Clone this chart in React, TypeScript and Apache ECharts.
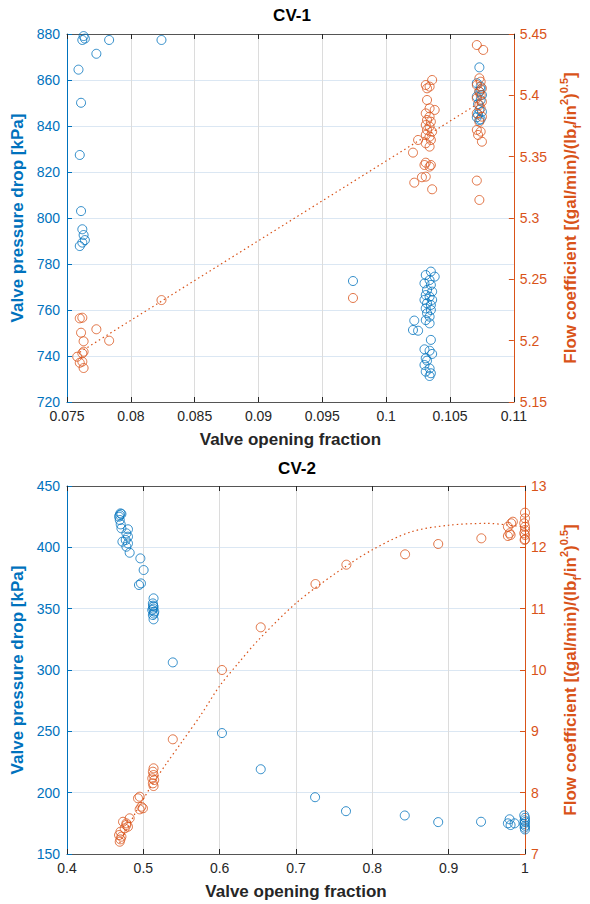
import React, { useEffect, useRef } from "react";
import * as echarts from "echarts";

// ---------- CV-1 data ----------
const cv1DropX = [
  0.0763, 0.0762, 0.0764, 0.0783, 0.0824, 0.0773, 0.0759, 0.0761, 0.076, 0.0761, 0.0762, 0.0763, 0.0764, 0.0762, 0.076,
  0.0974,
  0.1035, 0.1031, 0.1038, 0.1034, 0.103, 0.1035, 0.1032, 0.1036, 0.1031, 0.1034, 0.103, 0.1036, 0.1032, 0.1035, 0.1031,
  0.1035, 0.1032, 0.1034, 0.1031, 0.1034, 0.1022, 0.1021, 0.1025, 0.1035, 0.103, 0.1034, 0.1036, 0.1031, 0.1032, 0.103,
  0.1034, 0.1031, 0.1035, 0.1034,
  0.1073, 0.1071, 0.1074, 0.1073, 0.1075, 0.1071, 0.1074, 0.1073, 0.1075, 0.1071, 0.1074, 0.1073, 0.1072, 0.1074, 0.1072,
];
const cv1DropY = [
  879.1, 877.4, 878.0, 877.4, 877.4, 871.4, 864.5, 850.1, 827.4, 803.0, 795.1, 792.6, 790.4, 789.3, 787.8,
  772.6,
  776.7, 775.2, 774.5, 773.0, 771.6, 770.9, 768.7, 768.0, 766.5, 765.8, 764.4, 764.4, 762.9, 762.2, 760.7,
  760.0, 758.6, 757.1, 755.6, 754.2, 755.4, 751.3, 751.0, 747.0, 742.9, 742.3, 740.9, 739.0, 738.0, 736.1,
  734.6, 733.2, 732.5, 731.3,
  865.5, 858.6, 857.1, 854.9, 853.5, 852.8, 851.3, 847.0, 846.2, 843.8, 842.9, 842.6, 849.5, 856.0, 845.0,
];
const cv1CvX = [
  0.076, 0.0762, 0.0761, 0.0773, 0.0763, 0.0783, 0.0763, 0.0758, 0.0762, 0.076, 0.0762, 0.0763, 0.0824,
  0.0974,
  0.1036, 0.1031, 0.1034, 0.1032, 0.1032, 0.1034, 0.1038, 0.1031, 0.1034, 0.1032, 0.1035, 0.1031, 0.1034, 0.1032, 0.1036,
  0.1031, 0.1034, 0.1025, 0.1035, 0.1031, 0.1034, 0.1021, 0.1031, 0.1035, 0.103, 0.1034, 0.1031, 0.1028, 0.1022, 0.1036,
  0.1071, 0.1076, 0.1073, 0.1074, 0.1071, 0.1075, 0.1073, 0.1074, 0.1071, 0.1075, 0.1073, 0.1074, 0.1071, 0.1075, 0.1073,
  0.1071, 0.1074, 0.1072, 0.1075, 0.1071, 0.1073,
];
const cv1CvY = [
  5.2182, 5.2187, 5.2065, 5.2093, 5.1995, 5.2, 5.191, 5.1869, 5.1897, 5.182, 5.1829, 5.1777, 5.2331,
  5.2348,
  5.4125, 5.4084, 5.4071, 5.4057, 5.3962, 5.3894, 5.3881, 5.3853, 5.3826, 5.3799, 5.3785, 5.3758, 5.3745, 5.3718, 5.3704,
  5.3677, 5.3663, 5.3636, 5.3636, 5.3609, 5.3582, 5.3533, 5.3451, 5.3432, 5.3432, 5.3419, 5.3337, 5.3332, 5.3288, 5.3234,
  5.441, 5.437, 5.4139, 5.4111, 5.4084, 5.4057, 5.403, 5.4003, 5.3976, 5.3948, 5.3921, 5.3894, 5.3853, 5.3826, 5.3785,
  5.3718, 5.3704, 5.3677, 5.3622, 5.3305, 5.3147,
];
const cv1FitX = [0.076, 0.1073];
const cv1FitY = [5.1906, 5.3939];

// ---------- CV-2 data ----------
const cv2DropX = [
  0.47, 0.4691, 0.4713, 0.4682, 0.4691, 0.4704, 0.4713, 0.4799, 0.4778, 0.4799, 0.4769, 0.4726, 0.4799, 0.4778, 0.4821,
  0.4961, 0.5004, 0.4943, 0.4969, 0.5134, 0.5125, 0.5134, 0.5117, 0.5143, 0.5125, 0.5134, 0.513, 0.5138, 0.5128,
  0.5386, 0.603, 0.6538, 0.725, 0.7655, 0.8425, 0.8863, 0.9424, 0.9798, 0.9811, 0.9863, 0.9776,
  0.999, 1.0, 0.9995, 1.0, 0.999, 1.0, 0.9995, 1.0,
];
const cv2DropY = [
  427.7, 426.3, 427.2, 425.0, 422.3, 418.7, 415.5, 414.7, 411.4, 408.7, 406.0, 404.6, 403.2, 400.5, 395.6,
  391.0, 381.5, 369.3, 370.6, 358.4, 354.3, 351.6, 348.9, 347.6, 344.8, 341.3, 350.0, 346.0, 352.5,
  306.2, 248.6, 219.1, 196.3, 184.9, 181.4, 176.0, 176.3, 178.3, 173.6, 175.0, 175.0,
  181.5, 179.5, 177.5, 176.0, 174.5, 173.0, 171.5, 170.0,
];
const cv2CvX = [
  0.4691, 0.47, 0.4713, 0.4682, 0.47, 0.4821, 0.4734, 0.4778, 0.4799, 0.4756, 0.4778,
  0.4952, 0.493, 0.4974, 0.4995, 0.4952,
  0.5134, 0.5125, 0.5134, 0.5117, 0.5143, 0.5125, 0.5134,
  0.5386, 0.603, 0.6538, 0.7255, 0.766, 0.8429, 0.8863, 0.9428,
  0.9776, 0.9819, 0.9841, 0.9798, 0.9776, 0.9811,
  1.0, 1.0, 0.999, 1.0, 1.0, 0.999, 1.0, 1.0, 0.9995,
];
const cv2CvY = [
  7.2, 7.239, 7.282, 7.309, 7.363, 7.582, 7.526, 7.5, 7.445, 7.418, 7.473,
  7.934, 7.908, 7.771, 7.745, 7.728,
  8.397, 8.342, 8.288, 8.234, 8.206, 8.152, 8.108,
  8.87, 10.0, 10.696, 11.402, 11.717, 11.886, 12.054, 12.147,
  12.336, 12.392, 12.418, 12.229, 12.185, 12.201,
  12.565, 12.473, 12.392, 12.336, 12.283, 12.229, 12.201, 12.131, 12.12,
];
const cv2FitX = [0.469, 0.49, 0.51, 0.53, 0.55, 0.575, 0.6, 0.625, 0.65, 0.7, 0.75, 0.8, 0.85, 0.9, 0.95, 1.0];
const cv2FitY = [7.18, 7.68, 8.1, 8.47, 8.82, 9.26, 9.74, 10.12, 10.48, 11.09, 11.56, 11.96, 12.25, 12.36, 12.39, 12.33];

// ---------- labels ----------
const titles = ["CV-1", "CV-2"];
const xName = "Valve opening fraction";
const yLeftName = "Valve pressure drop [kPa]";

const BLUE = "#0072BD";
const ORANGE = "#D95319";
const DARK = "#262626";
const FONT = "'Liberation Sans', Arial, Helvetica, sans-serif";

const zip = (a: number[], b: number[]) => a.map((v, i) => [v, b[i]]);
const fmt = (v: number) => String(parseFloat(Number(v).toFixed(4)));

function xAxes(grid: number, min: number, max: number, interval: number) {
  return [
    {
      type: "value",
      gridIndex: grid,
      min,
      max,
      interval,
      position: "bottom",
      axisLine: { show: true, onZero: false, lineStyle: { color: "#555", width: 1 } },
      axisTick: { show: true, inside: true, length: 5, lineStyle: { color: DARK } },
      axisLabel: { color: DARK, fontSize: 14, fontFamily: FONT, margin: 7, formatter: fmt },
      splitLine: { show: true, lineStyle: { color: "#dcdcdc", width: 1 } },
      name: xName,
      nameLocation: "middle",
      nameGap: 29,
      nameTextStyle: { color: DARK, fontSize: 17, fontWeight: "bold", fontFamily: FONT },
    },
    {
      type: "value",
      gridIndex: grid,
      min,
      max,
      interval,
      position: "top",
      axisLine: { show: true, onZero: false, lineStyle: { color: "#555", width: 1 } },
      axisTick: { show: true, inside: true, length: 5, lineStyle: { color: DARK } },
      axisLabel: { show: false },
      splitLine: { show: false },
    },
  ];
}

function rightName() {
  return "{m|Flow coefficient [(gal/min)/(lb}{sub|f}{m|/in}{sup|2}{m|)}{sup|0.5}{m|]}";
}

function yAxes(grid: number, lmin: number, lmax: number, lint: number, rmin: number, rmax: number, rint: number, rGap: number) {
  const sub = { fontSize: 11, fontWeight: "bold", color: ORANGE, fontFamily: FONT, lineHeight: 11, verticalAlign: "bottom" };
  const sup = { fontSize: 11, fontWeight: "bold", color: ORANGE, fontFamily: FONT, lineHeight: 11, verticalAlign: "top" };
  return [
    {
      type: "value",
      gridIndex: grid,
      min: lmin,
      max: lmax,
      interval: lint,
      position: "left",
      axisLine: { show: true, onZero: false, lineStyle: { color: BLUE, width: 1 } },
      axisTick: { show: true, inside: true, length: 5, lineStyle: { color: BLUE } },
      axisLabel: { color: BLUE, fontSize: 14, fontFamily: FONT, margin: 7, formatter: fmt },
      splitLine: { show: true, lineStyle: { color: "#dbe7f3", width: 1 } },
      name: yLeftName,
      nameLocation: "middle",
      nameRotate: 90,
      nameGap: 40,
      nameTextStyle: { color: BLUE, fontSize: 17, fontWeight: "bold", fontFamily: FONT },
    },
    {
      type: "value",
      gridIndex: grid,
      min: rmin,
      max: rmax,
      interval: rint,
      position: "right",
      axisLine: { show: true, onZero: false, lineStyle: { color: ORANGE, width: 1 } },
      axisTick: { show: true, inside: true, length: 5, lineStyle: { color: ORANGE } },
      axisLabel: { color: ORANGE, fontSize: 14, fontFamily: FONT, margin: 6, formatter: fmt },
      splitLine: { show: false },
      name: rightName(),
      nameLocation: "middle",
      nameRotate: 90,
      nameGap: rGap,
      nameTextStyle: {
        color: ORANGE,
        fontSize: 17,
        fontWeight: "bold",
        fontFamily: FONT,
        rich: {
          m: { fontSize: 17, fontWeight: "bold", color: ORANGE, fontFamily: FONT, lineHeight: 24, verticalAlign: "middle" },
          sub,
          sup,
        },
      },
    },
  ];
}

function scatter(x: number[], y: number[], xi: number, yi: number, color: string) {
  return {
    type: "scatter",
    xAxisIndex: xi,
    yAxisIndex: yi,
    data: zip(x, y),
    symbol: "circle",
    symbolSize: 9,
    silent: true,
    itemStyle: { color: "rgba(0,0,0,0)", borderColor: color, borderWidth: 1 },
  };
}

function fitLine(x: number[], y: number[], xi: number, yi: number, smooth: boolean | number) {
  return {
    type: "line",
    xAxisIndex: xi,
    yAxisIndex: yi,
    data: zip(x, y),
    showSymbol: false,
    symbol: "none",
    smooth,
    silent: true,
    lineStyle: { color: ORANGE, width: 1.2, type: [1.5, 3] },
  };
}

export default function App() {
  const ref = useRef<HTMLDivElement>(null);
  useEffect(() => {
    document.body.style.margin = "0";
    if (!ref.current) return;
    const chart = echarts.init(ref.current, undefined, { renderer: "svg" });
    const option = {
      animation: false,
      backgroundColor: "#ffffff",
      textStyle: { fontFamily: FONT },
      grid: [
        { left: 67, top: 34, width: 450, height: 368, containLabel: false },
        { left: 67, top: 486, width: 461, height: 368, containLabel: false },
      ],
      xAxis: [...xAxes(0, 0.075, 0.11, 0.005), ...xAxes(1, 0.4, 1, 0.1)],
      yAxis: [...yAxes(0, 720, 880, 20, 5.15, 5.45, 0.05, 44), ...yAxes(1, 150, 450, 50, 7, 13, 1, 33)],
      graphic: [
        {
          type: "text",
          x: 292,
          y: 15,
          style: { text: titles[0], fill: "#000", font: `bold 17px ${FONT}`, textAlign: "center", textVerticalAlign: "middle" },
        },
        {
          type: "text",
          x: 297,
          y: 468,
          style: { text: titles[1], fill: "#000", font: `bold 17px ${FONT}`, textAlign: "center", textVerticalAlign: "middle" },
        },
      ],
      series: [
        fitLine(cv1FitX, cv1FitY, 0, 1, false),
        scatter(cv1DropX, cv1DropY, 0, 0, BLUE),
        scatter(cv1CvX, cv1CvY, 0, 1, ORANGE),
        fitLine(cv2FitX, cv2FitY, 2, 3, 0.3),
        scatter(cv2DropX, cv2DropY, 2, 2, BLUE),
        scatter(cv2CvX, cv2CvY, 2, 3, ORANGE),
      ],
    };
    chart.setOption(option as any);
    return () => chart.dispose();
  }, []);
  return <div ref={ref} style={{ position: "absolute", left: 0, top: 0, width: 590, height: 904 }} />;
}
